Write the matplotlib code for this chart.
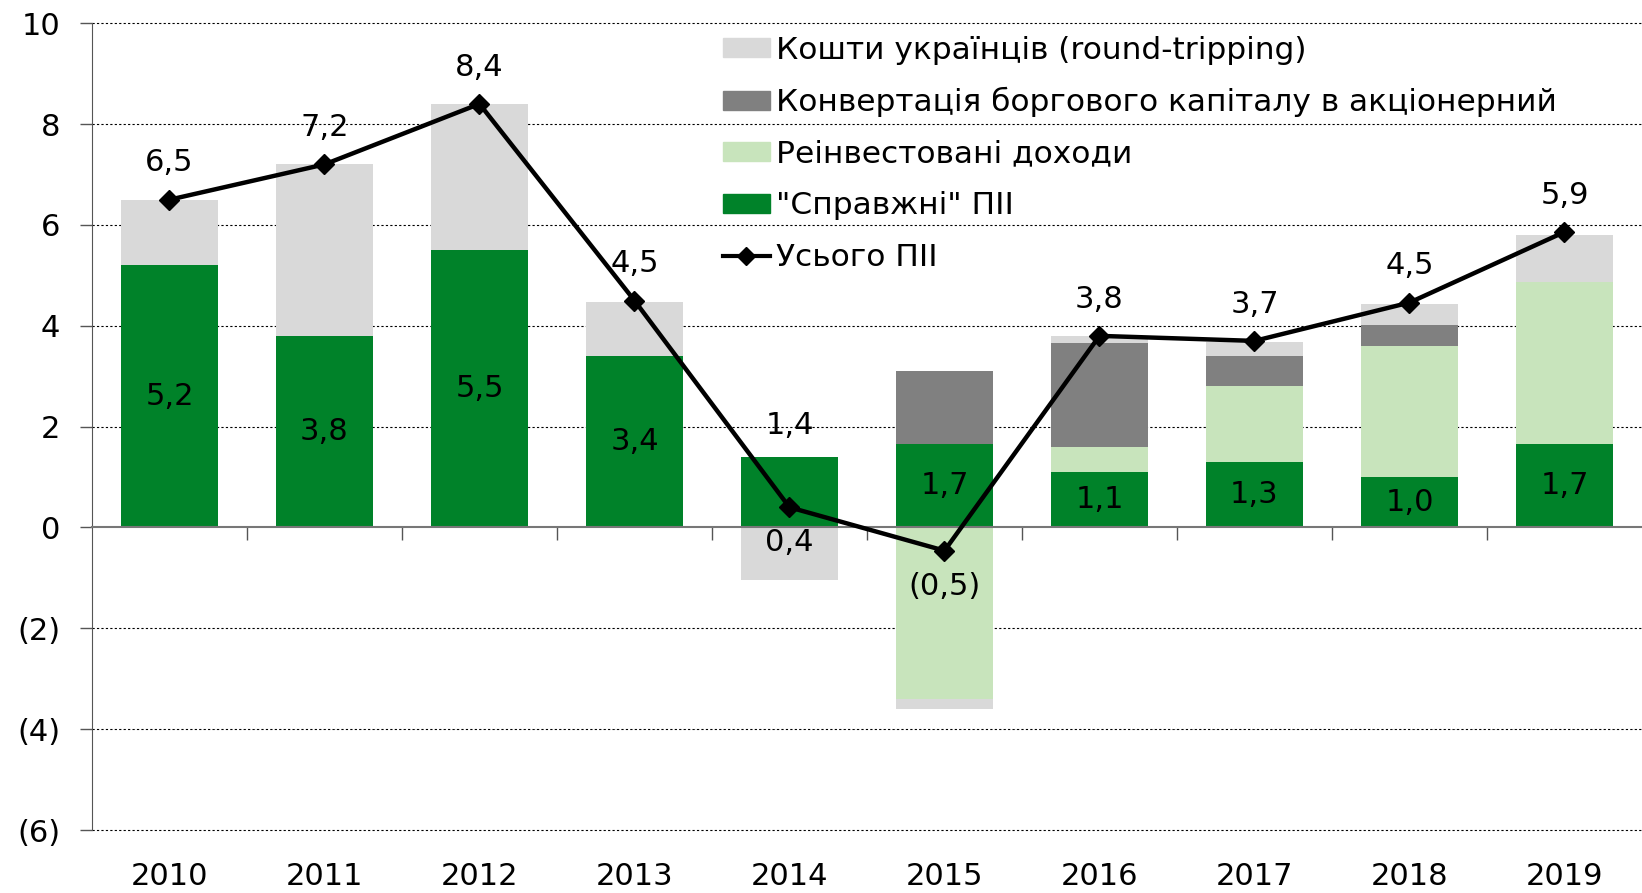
import matplotlib
matplotlib.use("Agg")
import matplotlib.pyplot as plt
import matplotlib.transforms as mtransforms
from matplotlib.lines import Line2D
from matplotlib.patches import Patch

years = ["2010", "2011", "2012", "2013", "2014", "2015", "2016", "2017", "2018", "2019"]
real_fdi = [5.2, 3.8, 5.5, 3.4, 1.4, 1.66, 1.1, 1.3, 1.0, 1.66]
reinvested = [0, 0, 0, 0, 0, -3.4, 0.5, 1.5, 2.6, 3.2]
debt_conv = [0, 0, 0, 0, 0, 1.45, 2.05, 0.6, 0.42, 0]
round_trip = [1.3, 3.4, 2.9, 1.07, -1.04, -0.2, 0.15, 0.27, 0.41, 0.95]
total = [6.5, 7.2, 8.4, 4.5, 0.4, -0.46, 3.8, 3.7, 4.46, 5.86]

names = ["Кошти українців (round-tripping)",
         "Конвертація боргового капіталу в акціонерний",
         "Реінвестовані доходи",
         "\"Справжні\" ПІІ",
         "Усього ПІІ"]

c_green = "#008229"
c_lgreen = "#c8e4bc"
c_dgrey = "#808080"
c_lgrey = "#d9d9d9"


def fmt(v):
    s = f"{abs(v):.1f}".replace(".", ",")
    return f"({s})" if v < 0 else s


fig = plt.figure(figsize=(16.42, 8.93), dpi=100)
ax = fig.add_axes([0.056, 0.0705, 0.944, 0.9035])

x = list(range(len(years)))
w = 0.62
pos_base = [0.0] * len(x)
neg_base = [0.0] * len(x)
for vals, col in [(real_fdi, c_green), (reinvested, c_lgreen),
                  (debt_conv, c_dgrey), (round_trip, c_lgrey)]:
    bottoms = []
    for i, v in enumerate(vals):
        if v >= 0:
            bottoms.append(pos_base[i])
            pos_base[i] += v
        else:
            bottoms.append(neg_base[i])
            neg_base[i] += v
    ax.bar(x, vals, w, bottom=bottoms, color=col, zorder=2)

ax.plot(x, total, color="black", lw=3.2, marker="D", ms=10, zorder=4)

# labels
for i, v in enumerate(total):
    below = v < 1
    ax.annotate(fmt(v), (i, v), xytext=(0, -15 if below else 16),
                textcoords="offset points", ha="center",
                va="top" if below else "bottom", fontsize=22, zorder=5)
for i, v in enumerate(real_fdi):
    if i == 4:
        ax.annotate(fmt(v), (i, v), xytext=(0, 12), textcoords="offset points",
                    ha="center", va="bottom", fontsize=22, zorder=5)
        continue
    ax.text(i, v / 2, fmt(v), ha="center", va="center", fontsize=22, zorder=5)

ax.set_xlim(-0.5, len(x) - 0.5)
ax.set_ylim(-6, 10)
yt = list(range(-6, 11, 2))
ax.set_yticks(yt)
ax.set_yticklabels([fmt(t).replace(",0", "") for t in yt], fontsize=22)
ax.tick_params(axis="y", direction="out", length=9, width=1, pad=14, colors="#555555",
               labelcolor="black")
for t in yt:
    if t != 0:
        ax.axhline(t, color="black", lw=0.8, ls=(0, (2, 2)), zorder=1, clip_on=False)

ax.spines["top"].set_visible(False)
ax.spines["right"].set_visible(False)
ax.spines["left"].set_color("#555555")
ax.spines["bottom"].set_position(("data", 0))
ax.spines["bottom"].set_color("#777777")
ax.spines["bottom"].set_linewidth(1.5)
ax.set_xticks([i + 0.5 for i in x[:-1]])
ax.set_xticklabels([])
ax.tick_params(axis="x", direction="out", length=9, width=1, colors="#555555")

trans = mtransforms.blended_transform_factory(ax.transData, ax.transAxes)
for i, yr in enumerate(years):
    ax.text(i, -0.057, yr, transform=trans, ha="center", va="center", fontsize=22)

handles = [Patch(color=c_lgrey), Patch(color=c_dgrey), Patch(color=c_lgreen),
           Patch(color=c_green),
           Line2D([], [], color="black", lw=3, marker="D", ms=9)]
ax.legend(handles, names, loc="upper left", bbox_to_anchor=(0.395, 1.008),
          frameon=False, prop={"family": "DejaVu Sans", "size": 22.5},
          handlelength=1.5, handleheight=0.55, handletextpad=0.2, labelspacing=0.72,
          borderaxespad=0.2)

fig.savefig("out.png", dpi=100)
